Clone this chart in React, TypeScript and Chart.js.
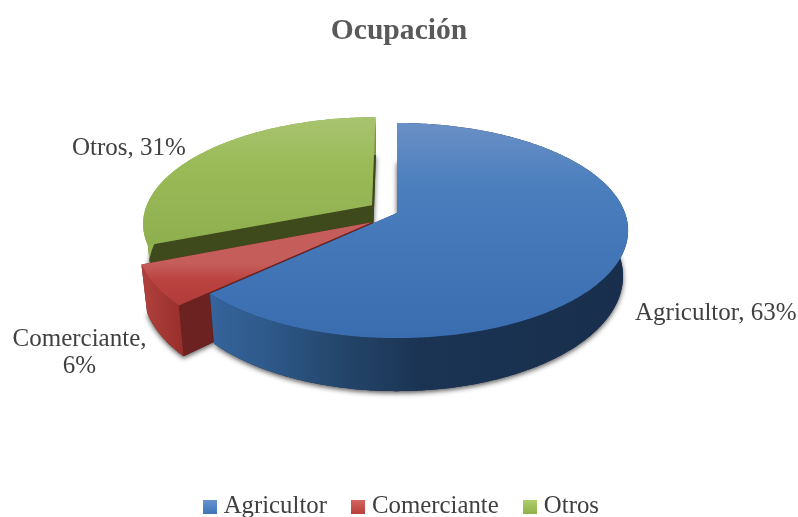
import React, { useEffect, useRef } from "react";
import { Chart, registerables } from "chart.js";

Chart.register(...registerables);

const TITLE = "Ocupación";
const CATEGORIES = ["Agricultor", "Comerciante", "Otros"];
const VALUES = [63, 6, 31];
const LEGEND_COLORS = ["#4f81bd", "#c0504d", "#9bbb59"];
const LEGEND_GRADIENTS = [["#6a95cf", "#3f75b8"], ["#d66763", "#b93f3b"], ["#b0d06e", "#8fb04a"]];

const TEXT_COLOR = "#404040";
const FONT = "'Liberation Serif', serif";

// Appearance of the 3D projection
const CX = 397, CY = 213, A = 104.7, B = 228, K = 0.163, DEPTH = 44.4, BOTTOM_SCALE = 0.978;
const EXPLODE = [[0, 0], [-0.108, -0.087], [-0.111, 0.0754]];
const TOP_STOPS = [
  [[0, "#6a90c6"], [0.3, "#4a7ebd"], [1, "#3a6db0"]],
  [[0, "#c55d5a"], [0.35, "#bb4441"], [1, "#b03b38"]],
  [[0, "#a8c470"], [0.35, "#9bbb59"], [1, "#8fae4e"]],
];
const SIDE_STOPS = [
  [[0, "#35639a"], [0.12, "#2e5a8c"], [0.32, "#234569"], [0.5, "#1b3454"], [1, "#182e4c"]],
  [[0, "#ae3f3b"], [1, "#982e2b"]],
  [[0, "#93b350"], [1, "#7f9c42"]],
];
const WALLS = ["#1a3252", "#6b2220", "#3e4a1c"];
const LEGEND_SHIFT = 4.5;
// Label anchors (x, y centre) per line
const LABEL_ANCHORS = [
  [[635, 313, "left"]],
  [[79.5, 339, "center"], [79.5, 366, "center"]],
  [[72, 148, "left"]],
];
const LABEL_LINES = [
  [`${CATEGORIES[0]}, ${VALUES[0]}%`],
  [`${CATEGORIES[1]},`, `${VALUES[1]}%`],
  [`${CATEGORIES[2]}, ${VALUES[2]}%`],
];

function pt(angle: number, r: number, i: number, bottom: boolean) {
  const u = r * Math.cos(angle) + EXPLODE[i][0];
  const v = -r * Math.sin(angle) + EXPLODE[i][1];
  const w = 1 + K * v;
  let x = CX + (B * u) / w;
  let y = CY - (A * v) / w;
  if (bottom) {
    x = CX + (x - CX) * BOTTOM_SCALE;
    y += DEPTH / w;
  }
  return [x, y];
}

function rim(a0: number, a1: number, i: number, bottom: boolean) {
  const n = Math.max(2, Math.ceil(Math.abs(a1 - a0) / 0.01));
  const out: number[][] = [];
  for (let j = 0; j <= n; j++) out.push(pt(a0 + ((a1 - a0) * j) / n, 1, i, bottom));
  return out;
}

function poly(ctx: CanvasRenderingContext2D, pts: number[][]) {
  ctx.beginPath();
  pts.forEach((p, j) => (j ? ctx.lineTo(p[0], p[1]) : ctx.moveTo(p[0], p[1])));
  ctx.closePath();
}

function grad(ctx: CanvasRenderingContext2D, x0: number, y0: number, x1: number, y1: number, stops: any[]) {
  const g = ctx.createLinearGradient(x0, y0, x1, y1);
  stops.forEach((s) => g.addColorStop(s[0], s[1]));
  return g;
}

function swatch(i: number) {
  const c = document.createElement("canvas");
  c.width = 14;
  c.height = 14;
  const x = c.getContext("2d")!;
  x.fillStyle = grad(x, 0, 0, 0, 14, [[0, LEGEND_GRADIENTS[i][0]], [1, LEGEND_GRADIENTS[i][1]]]);
  x.fillRect(0, 0, 14, 14);
  return c;
}

const pie3d = {
  id: "pie3d",
  afterLayout(chart: any) {
    chart.legend.left += LEGEND_SHIFT;
    chart.legend.right += LEGEND_SHIFT;
  },
  beforeDatasetsDraw(chart: any) {
    const ctx: CanvasRenderingContext2D = chart.ctx;
    const arcs = chart.getDatasetMeta(0).data;
    ctx.save();
    for (const i of [2, 1, 0]) {
      const { startAngle: s, endAngle: e } = arcs[i];
      const topRim = rim(s, e, i, false);
      const botRim = rim(s, e, i, true);
      const apexT = pt(0, 0, i, false);
      const apexB = pt(0, 0, i, true);
      const ys = topRim.map((p) => p[1]);
      const xs = botRim.map((p) => p[0]);
      const minX = Math.min(...xs), maxX = Math.max(...xs);

      // bottom face, casting the soft shadow
      ctx.save();
      ctx.shadowColor = "rgba(0,0,0,0.65)";
      ctx.shadowBlur = 5;
      ctx.shadowOffsetY = 2;
      ctx.fillStyle = WALLS[i];
      poly(ctx, [apexB, ...botRim]);
      ctx.fill();
      ctx.restore();

      // cut walls
      ctx.fillStyle = WALLS[i];
      poly(ctx, [apexT, topRim[0], botRim[0], apexB]);
      ctx.fill();
      poly(ctx, [apexT, topRim[topRim.length - 1], botRim[botRim.length - 1], apexB]);
      ctx.fill();

      // outer side band
      ctx.fillStyle = grad(ctx, minX, 0, maxX, 0, SIDE_STOPS[i]);
      poly(ctx, [...topRim, ...botRim.slice().reverse()]);
      ctx.fill();

      // top face
      ctx.fillStyle = grad(ctx, 0, Math.min(...ys), 0, Math.max(...ys), TOP_STOPS[i]);
      poly(ctx, [apexT, ...topRim]);
      ctx.fill();
    }

    ctx.fillStyle = TEXT_COLOR;
    ctx.font = `25px ${FONT}`;
    ctx.textBaseline = "middle";
    LABEL_LINES.forEach((lines, i) =>
      lines.forEach((t, j) => {
        const [x, y, align] = LABEL_ANCHORS[i][j] as [number, number, CanvasTextAlign];
        ctx.textAlign = align;
        ctx.fillText(t, x, y);
      })
    );
    ctx.restore();
    return false;
  },
};

export default function App() {
  const ref = useRef<HTMLCanvasElement | null>(null);
  useEffect(() => {
    const chart = new Chart(ref.current!, {
      type: "pie",
      data: {
        labels: CATEGORIES,
        datasets: [{ data: VALUES, backgroundColor: LEGEND_COLORS, borderWidth: 0 }],
      },
      options: {
        animation: false,
        responsive: false,
        layout: { padding: { bottom: -12 } },
        plugins: {
          title: {
            display: true,
            text: TITLE,
            color: "#595959",
            font: { family: FONT, size: 29.6, weight: "bold" },
            padding: { top: 14, bottom: 10 },
          },
          legend: {
            position: "bottom",
            labels: {
              color: TEXT_COLOR,
              font: { family: FONT, size: 24.8 },
              usePointStyle: true,
              pointStyleWidth: 3.2,
              padding: 29.5,
              generateLabels: (c: any) =>
                Chart.overrides.pie.plugins.legend.labels
                  .generateLabels(c)
                  .map((l: any, i: number) => ({ ...l, pointStyle: swatch(i) })),
            },
          },
          tooltip: { enabled: false },
        },
      },
      plugins: [pie3d],
    } as any);
    return () => chart.destroy();
  }, []);
  return (
    <div style={{ position: "fixed", left: 0, top: 0, width: 798, height: 517, background: "#fff" }}>
      <canvas ref={ref} width={798} height={517} style={{ display: "block" }} />
    </div>
  );
}
